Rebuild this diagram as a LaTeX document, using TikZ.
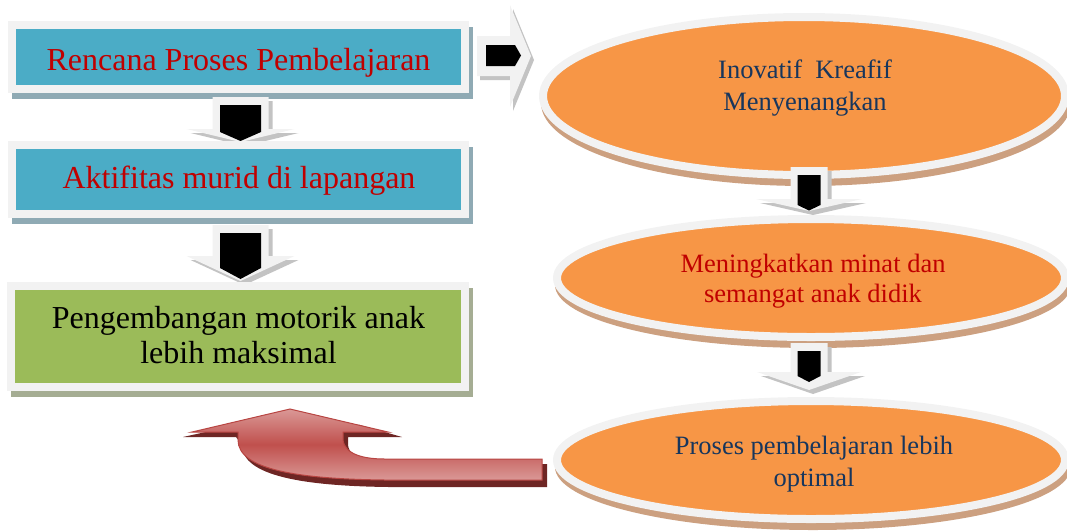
\documentclass[tikz,border=0pt]{standalone}
\usepackage{fontspec}
\setmainfont{Liberation Serif}
\usetikzlibrary{shapes.geometric,calc}
\definecolor{framew}{HTML}{F2F2F2}
\definecolor{boxblue}{HTML}{4BACC6}
\definecolor{boxgreen}{HTML}{9BBB59}
\definecolor{shblue}{HTML}{8FAAB4}
\definecolor{shgreen}{HTML}{A5AD93}
\definecolor{ovalorange}{HTML}{F79646}
\definecolor{shoval}{HTML}{CCA080}
\definecolor{ashade}{HTML}{C3C3C3}
\definecolor{redtxt}{HTML}{C00000}
\definecolor{navytxt}{HTML}{17365D}
\definecolor{redmain}{HTML}{C0504D}
\definecolor{redlight}{HTML}{DA9896}
\definecolor{redline}{HTML}{B84542}
\definecolor{reddark}{HTML}{6E2624}
\pgfdeclarelayer{background}
\pgfsetlayers{background,main}
\newcommand\dblk[9]{%
  \fill[ashadow,shift={(4,4)}] ({#1-#5},#2) -- ({#1+#5},#2) -- ({#1+#5},#3) -- ({#1+#6},#3) -- (#1,#4) -- ({#1-#6},#3) -- ({#1-#5},#3) -- cycle;
  \fill[awhite] ({#1-#5},#2) -- ({#1+#5},#2) -- ({#1+#5},#3) -- ({#1+#6},#3) -- (#1,#4) -- ({#1-#6},#3) -- ({#1-#5},#3) -- cycle;
  \fill[ablack] ({#1-#7},{#2+8}) -- ({#1+#7},{#2+8}) -- ({#1+#7},#8) -- (#1,#9) -- ({#1-#7},#8) -- cycle;
}
\begin{document}
\begin{tikzpicture}[x=1pt,y=-1pt,
  box/.style={rectangle, draw=framew, line width=8pt, inner sep=0pt, outer sep=0pt, minimum width=453pt},
  bluebox/.style={box, fill=boxblue},
  greenbox/.style={box, fill=boxgreen},
  boxtxt/.style={font=\fontsize{32}{35}\selectfont, inner sep=0pt, align=center},
  oval/.style={ellipse, draw=framew, line width=8pt, fill=ovalorange, inner sep=0pt, outer sep=0pt},
  ovaltxt/.style={inner sep=0pt, align=center},
  ashadow/.style={fill=ashade},
  awhite/.style={fill=framew},
  ablack/.style={fill=black},
  redarrow/.style={top color=redlight, bottom color=redlight, middle color=redmain, draw=redline, line width=1pt},
  redshadow/.style={fill=reddark}]
\useasboundingbox (0,0) rectangle (1067,531);

% left column
\node[bluebox, minimum height=64pt] (b1) at (238.5,57) {};
\node[boxtxt, text=redtxt, anchor=base] (t1) at (238.5,70) {Rencana Proses Pembelajaran};
\dblk{240.5}{97}{129}{142}{28}{54}{20.5}{132}{141}
\node[bluebox, minimum height=69pt] (b2) at (238.5,179.5) {};
\node[boxtxt, text=redtxt, anchor=base] (t2) at (239,188.5) {Aktifitas murid di lapangan};
\dblk{240.5}{225}{256}{281}{28}{54}{20.5}{268}{279}
\node[greenbox, minimum height=101pt, minimum width=454pt] (b3) at (238,336.5) {};
\node[boxtxt, text=black] (t3) at (238.5,334.6) {Pengembangan motorik anak\\lebih maksimal};

% right column
\node[oval, minimum width=522pt, minimum height=158pt] (e1) at (804,96) {};
\node[ovaltxt, text=navytxt, font=\fontsize{26.5}{32}\selectfont] (t4) at (805,88) {Inovatif\ \ Kreafif\\Menyenangkan};
\node[oval, minimum width=508pt, minimum height=118pt] (e2) at (811,278) {};
\node[ovaltxt, text=redtxt, font=\fontsize{26.5}{30}\selectfont] (t5) at (813,281) {Meningkatkan minat dan\\semangat anak didik};
\node[oval, minimum width=508pt, minimum height=118pt] (e3) at (811,460) {};
\node[ovaltxt, text=navytxt, font=\fontsize{26.5}{32}\selectfont] (t6) at (814,464) {Proses pembelajaran lebih\\optimal};

\dblk{809}{167}{199}{211}{18.5}{53}{11.5}{205}{210.5}
\dblk{809}{343}{372}{390}{18.5}{52}{11.5}{376}{382}

% right-pointing block arrow
\fill[ashadow, shift={(3,4)}] (477,36) -- (510,36) -- (510,5) -- (531,56) -- (510,107) -- (510,76) -- (477,76) -- cycle;
\fill[awhite] (477,36) -- (510,36) -- (510,5) -- (531,56) -- (510,107) -- (510,76) -- (477,76) -- cycle;
\fill[ablack] (486,45) -- (515,45) -- (521,55.5) -- (515,66) -- (486,66) -- cycle;

% curved red arrow
\fill[redshadow] (236,437) -- (183,437) -- (260,420) -- (360,425) -- (402,437) -- (348,437) -- (348,445) .. controls (350,460) and (370,464) .. (390,464) -- (547,464) -- (547,487) -- (389,487) .. controls (304,486) and (242,476) .. (242,445) -- cycle;
\shadedraw[redarrow] (238,432) -- (192,432) -- (290,409) -- (388,432) -- (343,432) -- (343,440) .. controls (345,455) and (365,459) .. (385,459) -- (542,459) -- (542,480) -- (385,480) .. controls (300,479) and (238,470) .. (238,440) -- cycle;

% shadows
\begin{pgfonlayer}{background}
  \fill[shblue] ($(b1.north west)+(0,2)$) rectangle ($(b1.south east)+(8,10)$);
  \fill[shblue] ($(b2.north west)+(0,2)$) rectangle ($(b2.south east)+(8,10)$);
  \fill[shgreen] ($(b3.north west)+(0,2)$) rectangle ($(b3.south east)+(8,10)$);
  \fill[shoval] ($(e1.center)+(2,7)$) ellipse [x radius=265pt, y radius=83pt];
  \fill[shoval] ($(e2.center)+(2,7)$) ellipse [x radius=258pt, y radius=63pt];
  \fill[shoval] ($(e3.center)+(2,7)$) ellipse [x radius=258pt, y radius=63pt];
\end{pgfonlayer}
\end{tikzpicture}
\end{document}
